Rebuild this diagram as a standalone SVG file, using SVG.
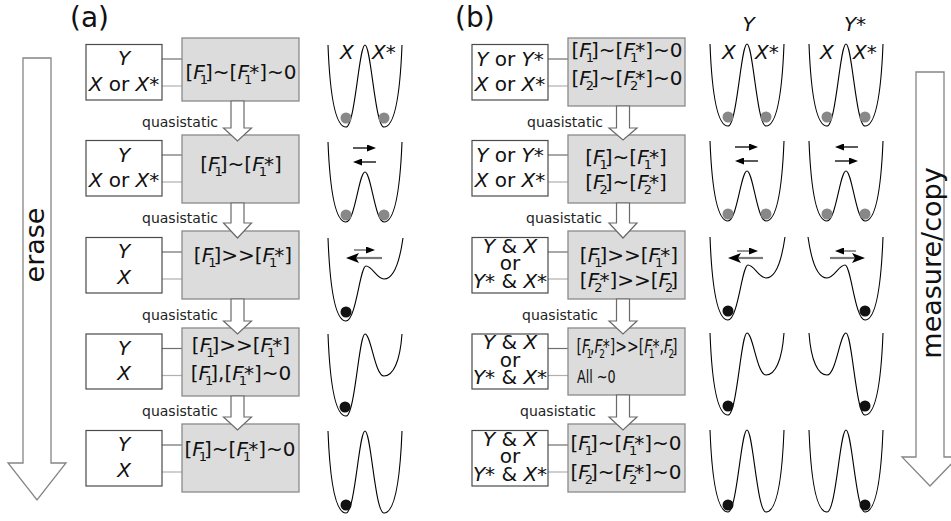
<svg xmlns="http://www.w3.org/2000/svg" width="951" height="521" viewBox="0 0 951 521">
<style>
text{font-family:"DejaVu Sans","Liberation Sans",sans-serif;fill:#111}
.f{font-size:20px}
.i{font-style:italic}
.s{font-size:13px}
.q{font-size:14px;fill:#222}
.big{font-size:27px}
.lab{font-size:28px}
.gb{fill:#dcdcdc;stroke:#8a8a8a;stroke-width:1.3}
.wb{fill:#fff;stroke:#4a4a4a;stroke-width:1.2}
.c1{stroke:#6e6e6e;stroke-width:1.2}
.c2{stroke:#b0b0b0;stroke-width:1.2}
.qa{fill:#fff;stroke:#6a6a6a;stroke-width:1.2}
.ba{fill:#fff;stroke:#858585;stroke-width:1.3}
.bg{fill:#888}
.bk{fill:#111}
.ar{stroke:#000;stroke-width:1.3;fill:none}
.ag{stroke:#7a7a7a;stroke-width:1.6;fill:none}
.agb{stroke:#7a7a7a;stroke-width:2.2;fill:none}
</style>
<defs>
<path id="pA" fill="none" stroke="#000" stroke-width="1.1" d="M0,0 C2,52 8,82 18,82 C27,82 31,0 37,0 C43,0 47,82 56,82 C66,82 72,52 74,0"/>
<path id="pB" fill="none" stroke="#000" stroke-width="1.1" d="M0,0 C2,50 8,80 18,80 C27,80 31,30 37,30 C43,30 47,80 56,80 C66,80 72,50 74,0"/>
<path id="pC" fill="none" stroke="#000" stroke-width="1.1" d="M0,0 C2,52 8,83 18,83 C28,83 32,28 38,28 C44,28 49,41 56,41 C64,41 71,28 75,0"/>
<path id="pD" fill="none" stroke="#000" stroke-width="1.1" d="M0,0 C2,52 8,82 18,82 C27,82 31,0 37,0 C43,0 47,42 56,42 C65,42 72,28 74,0"/>
<marker id="ah" markerUnits="userSpaceOnUse" markerWidth="9" markerHeight="7" refX="4" refY="3.5" orient="auto"><path d="M0,0 L9,3.5 L0,7 z" fill="#000"/></marker>
<marker id="ahb" markerUnits="userSpaceOnUse" markerWidth="13" markerHeight="10" refX="5" refY="5" orient="auto"><path d="M0,0 L13,5 L0,10 L3,5 z" fill="#000"/></marker>
</defs>

<!-- panel labels -->
<text class="lab" x="70" y="27">(a)</text>
<text class="lab" x="455" y="27">(b)</text>

<!-- big process arrows -->
<g id="erase-arrow">
<polygon class="ba" points="23,58 51,58 51,463 66,463 37,500 8,463 23,463"/>
<text class="big" transform="translate(44,245) rotate(-90)" text-anchor="middle">erase</text>
</g>
<g id="measure-arrow">
<polygon class="ba" points="916,72 944,72 944,457 958,457 930,486 902,457 916,457"/>
<text class="big" transform="translate(941,263) rotate(-90)" text-anchor="middle">measure/copy</text>
</g>

<!-- connectors -->
<g id="connectors">
<line class="c1" x1="162" y1="59" x2="182" y2="59"/><line class="c2" x1="162" y1="86" x2="182" y2="86"/>
<line class="c1" x1="162" y1="155" x2="182" y2="155"/><line class="c2" x1="162" y1="182" x2="182" y2="182"/>
<line class="c1" x1="162" y1="252" x2="182" y2="252"/><line class="c2" x1="162" y1="279" x2="182" y2="279"/>
<line class="c1" x1="162" y1="348.5" x2="182" y2="348.5"/><line class="c2" x1="162" y1="375.5" x2="182" y2="375.5"/>
<line class="c1" x1="162" y1="445" x2="182" y2="445"/><line class="c2" x1="162" y1="472" x2="182" y2="472"/>
<line class="c1" x1="548" y1="59" x2="568" y2="59"/><line class="c2" x1="548" y1="86" x2="568" y2="86"/>
<line class="c1" x1="548" y1="155" x2="568" y2="155"/><line class="c2" x1="548" y1="182" x2="568" y2="182"/>
<line class="c1" x1="548" y1="252" x2="568" y2="252"/><line class="c2" x1="548" y1="279" x2="568" y2="279"/>
<line class="c1" x1="548" y1="348.5" x2="568" y2="348.5"/><line class="c2" x1="548" y1="375.5" x2="568" y2="375.5"/>
<line class="c1" x1="548" y1="445" x2="568" y2="445"/><line class="c2" x1="548" y1="472" x2="568" y2="472"/>
</g>

<!-- panel (a) nodes -->
<g id="a-s1"><rect class="wb" x="86" y="44.5" width="76" height="55.5"/><text class="f" text-anchor="middle" x="124" y="65"><tspan class="i">Y</tspan></text><text class="f" text-anchor="middle" x="124" y="90.5"><tspan class="i">X</tspan> or <tspan class="i">X</tspan>*</text></g>
<g id="a-c1"><rect class="gb" x="182" y="38" width="117" height="63"/><text class="f" text-anchor="middle" x="241" y="79">[<tspan class="i">F</tspan><tspan class="s" dx="-5" dy="5">1</tspan><tspan dx="-3" dy="-5">]~[</tspan><tspan class="i">F</tspan><tspan class="s" dx="-5" dy="5">1</tspan><tspan dx="-3" dy="-5">*]~0</tspan></text></g>

<g id="a-s2"><rect class="wb" x="86" y="140.5" width="76" height="55.5"/><text class="f" text-anchor="middle" x="124" y="161.5"><tspan class="i">Y</tspan></text><text class="f" text-anchor="middle" x="124" y="187"><tspan class="i">X</tspan> or <tspan class="i">X</tspan>*</text></g>
<g id="a-c2"><rect class="gb" x="182" y="135" width="117" height="68"/><text class="f" text-anchor="middle" x="241" y="171">[<tspan class="i">F</tspan><tspan class="s" dx="-5" dy="5">1</tspan><tspan dx="-3" dy="-5">]~[</tspan><tspan class="i">F</tspan><tspan class="s" dx="-5" dy="5">1</tspan><tspan dx="-3" dy="-5">*]</tspan></text></g>

<g id="a-s3"><rect class="wb" x="86" y="237.5" width="76" height="55.5"/><text class="f i" text-anchor="middle" x="124" y="258">Y</text><text class="f i" text-anchor="middle" x="124" y="283.5">X</text></g>
<g id="a-c3"><rect class="gb" x="182" y="231" width="117" height="68"/><text class="f" text-anchor="middle" x="243" y="262">[<tspan class="i">F</tspan><tspan class="s" dx="-5" dy="5">1</tspan><tspan dx="-3" dy="-5">]&gt;&gt;[</tspan><tspan class="i">F</tspan><tspan class="s" dx="-5" dy="5">1</tspan><tspan dx="-3" dy="-5">*]</tspan></text></g>

<g id="a-s4"><rect class="wb" x="86" y="334" width="76" height="55"/><text class="f i" text-anchor="middle" x="124" y="355">Y</text><text class="f i" text-anchor="middle" x="124" y="380">X</text></g>
<g id="a-c4"><rect class="gb" x="182" y="328" width="117" height="68"/><text class="f" text-anchor="middle" x="241" y="352">[<tspan class="i">F</tspan><tspan class="s" dx="-5" dy="5">1</tspan><tspan dx="-3" dy="-5">]&gt;&gt;[</tspan><tspan class="i">F</tspan><tspan class="s" dx="-5" dy="5">1</tspan><tspan dx="-3" dy="-5">*]</tspan></text><text class="f" text-anchor="middle" x="241" y="380">[<tspan class="i">F</tspan><tspan class="s" dx="-5" dy="5">1</tspan><tspan dx="-3" dy="-5">],[</tspan><tspan class="i">F</tspan><tspan class="s" dx="-5" dy="5">1</tspan><tspan dx="-3" dy="-5">*]~0</tspan></text></g>

<g id="a-s5"><rect class="wb" x="86" y="430.5" width="76" height="55.5"/><text class="f i" text-anchor="middle" x="124" y="451">Y</text><text class="f i" text-anchor="middle" x="124" y="476.5">X</text></g>
<g id="a-c5"><rect class="gb" x="182" y="424" width="117" height="68"/><text class="f" text-anchor="middle" x="240" y="456">[<tspan class="i">F</tspan><tspan class="s" dx="-5" dy="5">1</tspan><tspan dx="-3" dy="-5">]~[</tspan><tspan class="i">F</tspan><tspan class="s" dx="-5" dy="5">1</tspan><tspan dx="-3" dy="-5">*]~0</tspan></text></g>

<!-- panel (b) nodes -->
<g id="b-s1"><rect class="wb" x="472" y="44.5" width="76" height="55.5"/><text class="f" text-anchor="middle" x="510" y="65.5"><tspan class="i">Y</tspan> or <tspan class="i">Y</tspan>*</text><text class="f" text-anchor="middle" x="510" y="91"><tspan class="i">X</tspan> or <tspan class="i">X</tspan>*</text></g>
<g id="b-c1"><rect class="gb" x="568" y="38" width="117" height="68"/><text class="f" text-anchor="middle" x="627" y="57">[<tspan class="i">F</tspan><tspan class="s" dx="-5" dy="5">1</tspan><tspan dx="-3" dy="-5">]~[</tspan><tspan class="i">F</tspan><tspan class="s" dx="-5" dy="5">1</tspan><tspan dx="-3" dy="-5">*]~0</tspan></text><text class="f" text-anchor="middle" x="627" y="85">[<tspan class="i">F</tspan><tspan class="s" dx="-5" dy="5">2</tspan><tspan dx="-3" dy="-5">]~[</tspan><tspan class="i">F</tspan><tspan class="s" dx="-5" dy="5">2</tspan><tspan dx="-3" dy="-5">*]~0</tspan></text></g>

<g id="b-s2"><rect class="wb" x="472" y="140.5" width="76" height="55.5"/><text class="f" text-anchor="middle" x="510" y="161.5"><tspan class="i">Y</tspan> or <tspan class="i">Y</tspan>*</text><text class="f" text-anchor="middle" x="510" y="187"><tspan class="i">X</tspan> or <tspan class="i">X</tspan>*</text></g>
<g id="b-c2"><rect class="gb" x="568" y="135" width="117" height="68"/><text class="f" text-anchor="middle" x="626" y="164">[<tspan class="i">F</tspan><tspan class="s" dx="-5" dy="5">1</tspan><tspan dx="-3" dy="-5">]~[</tspan><tspan class="i">F</tspan><tspan class="s" dx="-5" dy="5">1</tspan><tspan dx="-3" dy="-5">*]</tspan></text><text class="f" text-anchor="middle" x="626" y="189">[<tspan class="i">F</tspan><tspan class="s" dx="-5" dy="5">2</tspan><tspan dx="-3" dy="-5">]~[</tspan><tspan class="i">F</tspan><tspan class="s" dx="-5" dy="5">2</tspan><tspan dx="-3" dy="-5">*]</tspan></text></g>

<g id="b-s3"><rect class="wb" x="472" y="237.5" width="76" height="55.5"/><text class="f" text-anchor="middle" x="510" y="252.5"><tspan class="i">Y</tspan> &amp; <tspan class="i">X</tspan></text><text class="f" text-anchor="middle" x="510" y="270">or</text><text class="f" text-anchor="middle" x="510" y="287.5"><tspan class="i">Y</tspan>* &amp; <tspan class="i">X</tspan>*</text></g>
<g id="b-c3"><rect class="gb" x="568" y="231" width="117" height="68"/><text class="f" text-anchor="middle" x="629" y="262">[<tspan class="i">F</tspan><tspan class="s" dx="-5" dy="5">1</tspan><tspan dx="-3" dy="-5">]&gt;&gt;[</tspan><tspan class="i">F</tspan><tspan class="s" dx="-5" dy="5">1</tspan><tspan dx="-3" dy="-5">*]</tspan></text><text class="f" text-anchor="middle" x="629" y="287">[<tspan class="i">F</tspan><tspan class="s" dx="-5" dy="5">2</tspan><tspan dx="-3" dy="-5">*]&gt;&gt;[</tspan><tspan class="i">F</tspan><tspan class="s" dx="-5" dy="5">2</tspan><tspan dx="-3" dy="-5">]</tspan></text></g>

<g id="b-s4"><rect class="wb" x="472" y="334" width="76" height="55"/><text class="f" text-anchor="middle" x="510" y="349"><tspan class="i">Y</tspan> &amp; <tspan class="i">X</tspan></text><text class="f" text-anchor="middle" x="510" y="366.5">or</text><text class="f" text-anchor="middle" x="510" y="384"><tspan class="i">Y</tspan>* &amp; <tspan class="i">X</tspan>*</text></g>
<g id="b-c4"><rect class="gb" x="568" y="328" width="117" height="67"/><g transform="translate(627,353) scale(0.7,1)"><text class="f" text-anchor="middle" x="0" y="0">[<tspan class="i">F</tspan><tspan class="s" dx="-5" dy="5">1</tspan><tspan dx="-3" dy="-5">,</tspan><tspan class="i">F</tspan><tspan class="s" dx="-5" dy="5">2</tspan><tspan dx="-3" dy="-5">*]&gt;&gt;[</tspan><tspan class="i">F</tspan><tspan class="s" dx="-5" dy="5">1</tspan><tspan dx="-3" dy="-5">*,</tspan><tspan class="i">F</tspan><tspan class="s" dx="-5" dy="5">2</tspan><tspan dx="-3" dy="-5">]</tspan></text></g><g transform="translate(577,383) scale(0.75,1)"><text x="0" y="0" font-size="17">All ~0</text></g></g>

<g id="b-s5"><rect class="wb" x="472" y="430.5" width="76" height="55.5"/><text class="f" text-anchor="middle" x="510" y="445.5"><tspan class="i">Y</tspan> &amp; <tspan class="i">X</tspan></text><text class="f" text-anchor="middle" x="510" y="463">or</text><text class="f" text-anchor="middle" x="510" y="480.5"><tspan class="i">Y</tspan>* &amp; <tspan class="i">X</tspan>*</text></g>
<g id="b-c5"><rect class="gb" x="568" y="424" width="117" height="68"/><text class="f" text-anchor="middle" x="626" y="450">[<tspan class="i">F</tspan><tspan class="s" dx="-5" dy="5">1</tspan><tspan dx="-3" dy="-5">]~[</tspan><tspan class="i">F</tspan><tspan class="s" dx="-5" dy="5">1</tspan><tspan dx="-3" dy="-5">*]~0</tspan></text><text class="f" text-anchor="middle" x="626" y="479">[<tspan class="i">F</tspan><tspan class="s" dx="-5" dy="5">2</tspan><tspan dx="-3" dy="-5">]~[</tspan><tspan class="i">F</tspan><tspan class="s" dx="-5" dy="5">2</tspan><tspan dx="-3" dy="-5">*]~0</tspan></text></g>

<!-- quasistatic arrows -->
<g id="quasistatic-arrows">
<polygon class="qa" points="231,101 244,101 244,128 251.5,128 237.5,141 223.5,128 231,128"/>
<polygon class="qa" points="231,203 244,203 244,223 251.5,223 237.5,238 223.5,223 231,223"/>
<polygon class="qa" points="231,299 244,299 244,321 251.5,321 237.5,334 223.5,321 231,321"/>
<polygon class="qa" points="231,396 244,396 244,417 251.5,417 237.5,430 223.5,417 231,417"/>
<polygon class="qa" points="616.5,106 629.5,106 629.5,128 637,128 623,140 609,128 616.5,128"/>
<polygon class="qa" points="616.5,203 629.5,203 629.5,223 637,223 623,238 609,223 616.5,223"/>
<polygon class="qa" points="616.5,299 629.5,299 629.5,321 637,321 623,334 609,321 616.5,321"/>
<polygon class="qa" points="616.5,395 629.5,395 629.5,417 637,417 623,430 609,417 616.5,417"/>
<text class="q" text-anchor="end" x="218" y="127">quasistatic</text>
<text class="q" text-anchor="end" x="218" y="223">quasistatic</text>
<text class="q" text-anchor="end" x="218" y="320">quasistatic</text>
<text class="q" text-anchor="end" x="218" y="416">quasistatic</text>
<text class="q" text-anchor="end" x="603" y="127">quasistatic</text>
<text class="q" text-anchor="end" x="602" y="223">quasistatic</text>
<text class="q" text-anchor="end" x="598" y="320">quasistatic</text>
<text class="q" text-anchor="end" x="596" y="416">quasistatic</text>
</g>

<!-- potentials (a) -->
<g id="a-potentials">
<text class="f i" x="340" y="59">X</text><text class="f" x="372" y="59"><tspan class="i">X</tspan>*</text>
<g transform="translate(328,45)"><use href="#pA"/><circle class="bg" cx="18" cy="73" r="5.5"/><circle class="bg" cx="56" cy="73" r="5.5"/></g>
<g transform="translate(328,142)"><use href="#pB"/><line class="ar" x1="25" y1="6" x2="43" y2="6" marker-end="url(#ah)"/><line class="ar" x1="48" y1="20" x2="30" y2="20" marker-end="url(#ah)"/><circle class="bg" cx="18" cy="73" r="5.5"/><circle class="bg" cx="56" cy="73" r="5.5"/></g>
<g transform="translate(328,238)"><use href="#pC"/><line class="ag" x1="26" y1="12" x2="42" y2="12" marker-end="url(#ah)"/><line class="agb" x1="54" y1="20" x2="26" y2="20" marker-end="url(#ahb)"/><circle class="bk" cx="18" cy="74" r="5.5"/></g>
<g transform="translate(328,334)"><use href="#pD"/><circle class="bk" cx="17" cy="73" r="5.5"/></g>
<g transform="translate(328,431)"><use href="#pA"/><circle class="bk" cx="18" cy="74" r="5.5"/></g>
</g>

<!-- potentials (b) -->
<g id="b-potentials">
<text class="f i" x="748.5" y="31" text-anchor="middle">Y</text><text class="f" x="855" y="31" text-anchor="middle"><tspan class="i">Y</tspan>*</text>
<text class="f i" x="722" y="59">X</text><text class="f" x="755" y="59"><tspan class="i">X</tspan>*</text>
<text class="f i" x="820" y="59">X</text><text class="f" x="853" y="59"><tspan class="i">X</tspan>*</text>
<g transform="translate(710,44)"><use href="#pA"/><circle class="bg" cx="18" cy="73" r="5.5"/><circle class="bg" cx="56" cy="73" r="5.5"/></g>
<g transform="translate(883,44) scale(-1,1)"><use href="#pA"/><circle class="bg" cx="18" cy="73" r="5.5"/><circle class="bg" cx="56" cy="73" r="5.5"/></g>
<g transform="translate(710,141)"><use href="#pB"/><line class="ar" x1="25" y1="6" x2="43" y2="6" marker-end="url(#ah)"/><line class="ar" x1="48" y1="20" x2="30" y2="20" marker-end="url(#ah)"/><circle class="bg" cx="18" cy="73" r="5.5"/><circle class="bg" cx="56" cy="73" r="5.5"/></g>
<g transform="translate(883,141) scale(-1,1)"><use href="#pB"/><line class="ar" x1="25" y1="6" x2="43" y2="6" marker-end="url(#ah)"/><line class="ar" x1="48" y1="20" x2="30" y2="20" marker-end="url(#ah)"/><circle class="bg" cx="18" cy="73" r="5.5"/><circle class="bg" cx="56" cy="73" r="5.5"/></g>
<g transform="translate(710,237)"><use href="#pC"/><line class="ag" x1="27" y1="14" x2="43" y2="14" marker-end="url(#ah)"/><line class="agb" x1="53" y1="21" x2="26" y2="21" marker-end="url(#ahb)"/><circle class="bk" cx="18" cy="74" r="5.5"/></g>
<g transform="translate(883,237) scale(-1,1)"><use href="#pC"/><line class="ag" x1="27" y1="14" x2="43" y2="14" marker-end="url(#ah)"/><line class="agb" x1="53" y1="21" x2="26" y2="21" marker-end="url(#ahb)"/><circle class="bk" cx="18" cy="74" r="5.5"/></g>
<g transform="translate(710,333)"><use href="#pD"/><circle class="bk" cx="18" cy="73" r="5.5"/></g>
<g transform="translate(883,333) scale(-1,1)"><use href="#pD"/><circle class="bk" cx="18" cy="73" r="5.5"/></g>
<g transform="translate(710,430)"><use href="#pA"/><circle class="bk" cx="18" cy="75" r="5.5"/></g>
<g transform="translate(883,430) scale(-1,1)"><use href="#pA"/><circle class="bk" cx="18" cy="75" r="5.5"/></g>
</g>
</svg>
